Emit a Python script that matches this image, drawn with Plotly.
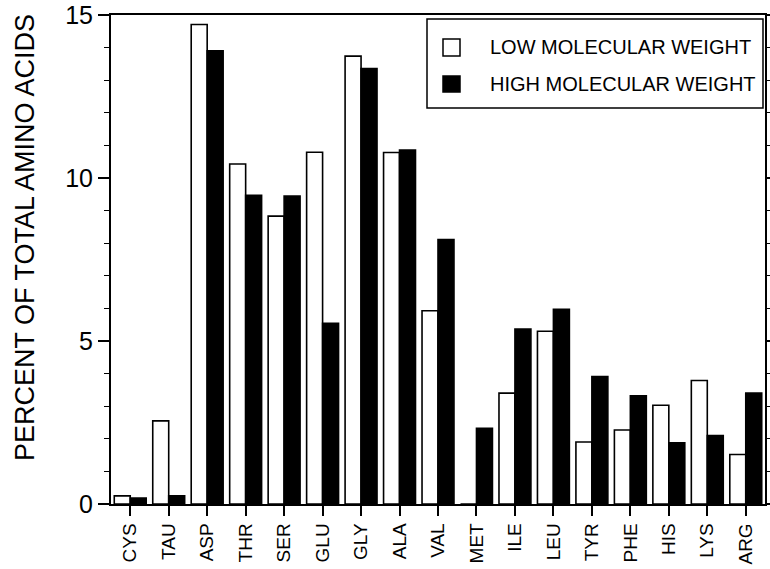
import plotly.graph_objects as go

categories = ["CYS", "TAU", "ASP", "THR", "SER", "GLU", "GLY", "ALA", "VAL",
              "MET", "ILE", "LEU", "TYR", "PHE", "HIS", "LYS", "ARG"]
low_mw = [0.25, 2.55, 14.71, 10.43, 8.83, 10.79, 13.74, 10.78, 5.93,
          0.0, 3.40, 5.30, 1.90, 2.27, 3.03, 3.79, 1.52]
high_mw = [0.18, 0.25, 13.90, 9.47, 9.45, 5.54, 13.36, 10.86, 8.11,
           2.32, 5.37, 5.97, 3.91, 3.32, 1.88, 2.10, 3.40]
y_ticks = [0, 5, 10, 15]
legend_names = ["LOW MOLECULAR WEIGHT", "HIGH MOLECULAR WEIGHT"]

FONT = "Liberation Sans, Arial, Helvetica, sans-serif"

fig = go.Figure()
fig.add_trace(go.Bar(x=categories, y=low_mw, name=legend_names[0],
                     marker=dict(color="white", line=dict(color="black", width=1.6))))
fig.add_trace(go.Bar(x=categories, y=high_mw, name=legend_names[1],
                     marker=dict(color="black", line=dict(color="black", width=1.6))))

W, H = 770, 569
L, R, T, B = 111, 5, 15, 65
pw, ph = W - L - R, H - T - B

def px(x):
    return (x - L) / pw

def py(y):
    return (H - B - y) / ph

fig.update_layout(
    width=W, height=H,
    margin=dict(l=L, r=R, t=T, b=B, pad=0, autoexpand=False),
    paper_bgcolor="white", plot_bgcolor="white",
    barmode="group", bargap=0.17, bargroupgap=0.0,
    showlegend=False,
    font=dict(family=FONT, color="black"),
)
fig.update_xaxes(
    type="category", range=[-0.5, 16.5], automargin=False,
    showline=True, linecolor="black", linewidth=1.5, mirror=True,
    ticks="outside", ticklen=10, tickwidth=1.5, tickcolor="black",
    tickangle=-90, tickfont=dict(size=19, family=FONT, color="black"),
    showgrid=False, zeroline=False,
)
fig.update_yaxes(
    range=[0, 15], tickvals=y_ticks, automargin=False,
    showline=True, linecolor="black", linewidth=2, mirror="ticks",
    ticks="outside", ticklen=11, tickwidth=1.5, tickcolor="black",
    tickfont=dict(size=25, family=FONT, color="black"),
    minor=dict(dtick=1, ticks="outside", ticklen=5, tickwidth=1.2, tickcolor="black", showgrid=False),
    showgrid=False, zeroline=False,
)

shapes = [
    dict(type="rect", xref="paper", yref="paper",
         x0=px(427), x1=px(763), y0=py(108), y1=py(19),
         line=dict(color="black", width=1.5), fillcolor="white", layer="above"),
    dict(type="rect", xref="paper", yref="paper",
         x0=px(443), x1=px(460), y0=py(56), y1=py(39),
         line=dict(color="black", width=1.5), fillcolor="white", layer="above"),
    dict(type="rect", xref="paper", yref="paper",
         x0=px(443), x1=px(460), y0=py(92), y1=py(76),
         line=dict(color="black", width=1.5), fillcolor="black", layer="above"),
]
fig.update_layout(shapes=shapes)

annotations = [
    dict(xref="paper", yref="paper", x=px(488), y=py(47), text=legend_names[0],
         showarrow=False, xanchor="left", yanchor="middle",
         font=dict(size=20, family=FONT, color="black")),
    dict(xref="paper", yref="paper", x=px(488), y=py(84), text=legend_names[1],
         showarrow=False, xanchor="left", yanchor="middle",
         font=dict(size=20, family=FONT, color="black")),
    dict(xref="paper", yref="paper", x=px(25), y=py(238),
         text="PERCENT OF TOTAL AMINO ACIDS", textangle=-90,
         showarrow=False, xanchor="center", yanchor="middle",
         font=dict(size=27, family=FONT, color="black")),
]
fig.update_layout(annotations=annotations)

fig.write_html("out.html", config={"displayModeBar": False},
               post_script="document.body.style.margin='0px';document.body.style.overflow='hidden';")
